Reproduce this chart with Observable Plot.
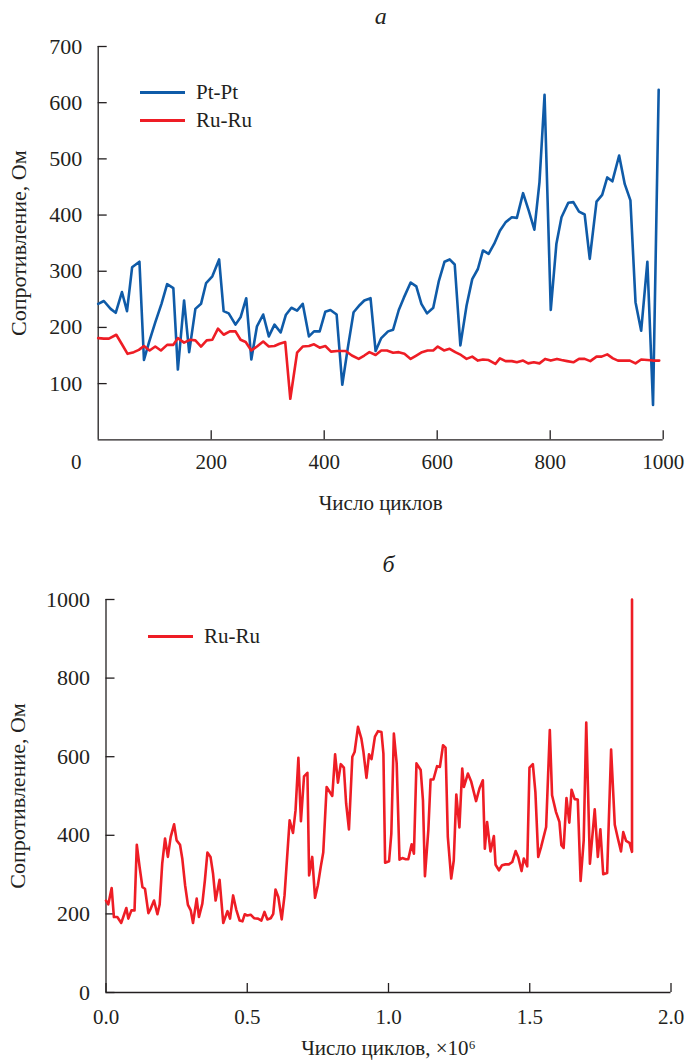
<!DOCTYPE html>
<html><head><meta charset="utf-8">
<script src="https://cdn.jsdelivr.net/npm/d3@7"></script>
<script src="https://cdn.jsdelivr.net/npm/@observablehq/plot@0.6"></script>
<style>
body{margin:0;background:#fff;}
#wrap{position:relative;width:689px;height:1064px;font-family:"Liberation Serif","DejaVu Serif",serif;color:#231f20;}
.plot{position:absolute;left:0;}
.plot text{font-family:"Liberation Serif","DejaVu Serif",serif;}
.leg{position:absolute;display:flex;align-items:center;font-size:21px;line-height:1;color:#231f20;white-space:nowrap;font-family:"Liberation Serif","DejaVu Serif",serif;}
.leg .sw{display:inline-block;width:45px;height:3px;margin-right:11px;}
</style></head><body><div id="wrap"></div>
<script>
// ---- Chart а: resistance vs cycles (0..1000) ----
const ptCycles = [0,10,22,31,42,51,60,73,81,90,101,112,122,133,141,152,161,172,182,191,202,214,222,231,243,252,262,271,281,292,302,312,323,332,342,352,362,373,382,392,402,411,422,432,442,452,463,471,482,491,501,513,522,532,541,553,563,572,582,593,603,613,622,631,641,652,662,672,681,691,701,711,721,732,741,752,762,772,781,790,801,811,820,832,841,851,861,870,882,892,901,910,922,932,942,951,961,972,982,992];
const ptValues = [242,247,233,226,263,229,307,317,142,174,209,242,277,270,125,248,156,233,242,279,291,321,229,225,205,218,252,143,202,223,184,205,191,222,235,230,242,184,193,193,228,231,223,98,165,227,240,248,252,158,181,193,196,231,253,280,273,242,225,235,283,317,321,312,168,239,286,304,337,331,349,372,387,396,395,439,408,374,458,614,231,349,396,422,423,406,401,322,424,436,467,460,506,455,426,245,194,317,62,623];
const ruCycles = [0,10,19,32,42,52,63,72,81,91,101,111,122,133,141,152,162,172,182,192,202,212,222,233,243,252,261,271,281,292,302,312,321,331,340,352,362,373,382,392,402,412,423,438,449,461,471,480,491,501,511,522,532,542,553,563,573,583,593,601,612,622,632,642,652,662,672,681,691,703,711,721,732,741,752,761,771,781,791,801,812,820,830,841,851,861,871,882,891,901,911,920,931,941,951,961,972,982,993];
const ruValues = [181,180,180,187,170,153,156,160,167,159,166,159,169,169,181,173,178,177,166,177,178,198,187,193,193,178,174,159,166,175,166,167,171,174,73,155,166,167,170,164,167,157,158,158,150,144,150,156,151,159,159,155,156,153,144,150,156,159,159,166,159,162,156,151,144,148,141,143,142,135,145,140,140,138,141,136,138,136,144,141,144,142,140,138,144,144,140,148,148,152,145,141,141,141,136,143,142,141,141];
const yTicksA = [100,200,300,400,500,600,700];
const xTicksA = [200,400,600,800,1000];

// ---- Chart б: resistance vs cycles (×10^6) ----
const ru2Cycles = [0.000,0.008,0.020,0.028,0.040,0.054,0.072,0.079,0.090,0.101,0.109,0.119,0.129,0.138,0.150,0.158,0.170,0.182,0.190,0.199,0.209,0.219,0.229,0.241,0.250,0.262,0.270,0.280,0.290,0.300,0.308,0.321,0.329,0.341,0.350,0.359,0.370,0.379,0.388,0.402,0.415,0.430,0.439,0.450,0.461,0.473,0.483,0.491,0.500,0.512,0.524,0.538,0.550,0.561,0.571,0.583,0.592,0.600,0.610,0.622,0.632,0.650,0.662,0.671,0.681,0.690,0.701,0.713,0.719,0.730,0.740,0.750,0.760,0.769,0.781,0.801,0.811,0.821,0.831,0.842,0.850,0.860,0.872,0.880,0.892,0.904,0.911,0.922,0.931,0.940,0.952,0.963,0.975,0.982,0.988,1.002,1.010,1.019,1.029,1.039,1.049,1.061,1.070,1.082,1.090,1.099,1.114,1.122,1.129,1.141,1.149,1.159,1.172,1.182,1.193,1.202,1.210,1.222,1.231,1.240,1.251,1.261,1.267,1.281,1.293,1.310,1.322,1.334,1.341,1.349,1.361,1.373,1.379,1.391,1.402,1.414,1.426,1.438,1.450,1.459,1.471,1.479,1.491,1.499,1.511,1.520,1.530,1.540,1.558,1.571,1.579,1.593,1.605,1.612,1.620,1.630,1.640,1.648,1.659,1.670,1.680,1.691,1.700,1.713,1.730,1.741,1.750,1.760,1.774,1.788,1.801,1.812,1.823,1.831,1.841,1.853,1.862,1.862];
const ru2Values = [234,224,266,192,192,177,215,188,209,209,376,319,268,264,202,213,234,199,224,328,392,345,396,428,387,376,341,273,223,209,177,239,192,226,285,356,345,302,234,287,177,207,188,247,211,183,181,199,196,198,189,188,183,205,186,189,200,262,243,186,247,438,406,464,597,436,550,559,298,345,241,273,319,356,523,500,606,534,581,572,481,415,600,612,676,646,614,546,606,594,651,665,663,608,330,334,404,659,583,338,342,339,339,377,353,583,566,489,296,413,542,542,576,574,629,623,396,290,336,504,420,570,523,557,536,487,519,540,366,434,359,398,325,311,324,326,326,332,360,345,309,341,321,572,581,510,345,370,421,668,502,459,434,375,368,495,432,516,492,491,284,387,687,328,466,345,415,301,304,618,427,392,359,408,386,381,358,1000];
const yTicksB = [0,200,400,600,800,1000];
const xTicksB = [0,0.5,1.0,1.5,2.0];

const BLUE = "#0f5ba8", RED = "#ee1d25", INK = "#231f20";
const FONT = '"Liberation Serif", "DejaVu Serif", serif';

const ptData = ptCycles.map((c, i) => ({c, v: ptValues[i]}));
const ruData = ruCycles.map((c, i) => ({c, v: ruValues[i]}));
const ru2Data = ru2Cycles.map((c, i) => ({c, v: ru2Values[i]}));

const wrap = document.getElementById("wrap");
const intFmt = d => String(d);

const plotA = Plot.plot({
  width: 689, height: 520,
  marginLeft: 97.7, marginRight: 26.3, marginTop: 46, marginBottom: 80.7,
  style: {fontFamily: FONT, fontSize: "21px", color: INK, background: "white", overflow: "visible"},
  x: {domain: [0, 1000]},
  y: {domain: [0, 700]},
  marks: [
    Plot.axisY(yTicksA, {tickSize: -9, tickPadding: 25, stroke: INK, strokeWidth: 1.3, tickFormat: intFmt, label: "Сопротивление, Ом", labelArrow: "none", labelAnchor: "center", labelOffset: 88, fontSize: 22}),
    Plot.axisX(xTicksA, {tickSize: -9, tickPadding: 23, stroke: INK, strokeWidth: 1.3, tickFormat: intFmt, label: null}),
    Plot.axisX([0], {tickSize: 0, tickPadding: 14, dx: -22, tickFormat: intFmt, label: "Число циклов", labelArrow: "none", labelAnchor: "center", labelOffset: 70, fontSize: 21}),
    Plot.ruleX([0], {stroke: INK, strokeWidth: 1.3}),
    Plot.ruleY([0], {stroke: INK, strokeWidth: 1.3}),
    Plot.line(ptData, {x: "c", y: "v", stroke: BLUE, strokeWidth: 2.6}),
    Plot.line(ruData, {x: "c", y: "v", stroke: RED, strokeWidth: 2.6}),
    Plot.text(["а"], {frameAnchor: "top", dy: -40, fontStyle: "italic", fontSize: 24, fill: INK})
  ]
});
plotA.classList.add("plot");
plotA.style.top = "0px";
wrap.appendChild(plotA);

const plotB = Plot.plot({
  width: 689, height: 524,
  marginLeft: 105.5, marginRight: 18.5, marginTop: 59, marginBottom: 72,
  style: {fontFamily: FONT, fontSize: "21px", color: INK, background: "white", overflow: "visible"},
  x: {domain: [0, 2]},
  y: {domain: [0, 1000]},
  marks: [
    Plot.axisY(yTicksB, {tickSize: -9, tickPadding: 25, stroke: INK, strokeWidth: 1.3, tickFormat: intFmt, label: "Сопротивление, Ом", labelArrow: "none", labelAnchor: "center", labelOffset: 97, fontSize: 22}),
    Plot.axisX(xTicksB, {tickSize: -9, tickPadding: 26, stroke: INK, strokeWidth: 1.3, tickFormat: d3.format(".1f"), label: "Число циклов, ×10⁶", labelArrow: "none", labelAnchor: "center", labelOffset: 62, fontSize: 21}),
    Plot.ruleX([0], {stroke: INK, strokeWidth: 1.3}),
    Plot.ruleY([0], {stroke: INK, strokeWidth: 1.3}),
    Plot.line(ru2Data, {x: "c", y: "v", stroke: RED, strokeWidth: 2.6}),
    Plot.text(["б"], {frameAnchor: "top", dy: -45, fontStyle: "italic", fontSize: 24, fill: INK})
  ]
});
plotB.classList.add("plot");
plotB.style.top = "540px";
wrap.appendChild(plotB);

// legends
function legend(items, left, top, gap) {
  items.forEach(([name, color], i) => {
    const d = document.createElement("div");
    d.className = "leg";
    d.style.left = left + "px";
    d.style.top = (top + i * gap) + "px";
    d.innerHTML = `<span class="sw" style="background:${color}"></span><span>${name}</span>`;
    wrap.appendChild(d);
  });
}
legend([["Pt-Pt", BLUE], ["Ru-Ru", RED]], 140, 82, 28);
legend([["Ru-Ru", RED]], 148, 626, 28);
</script>
</body></html>
